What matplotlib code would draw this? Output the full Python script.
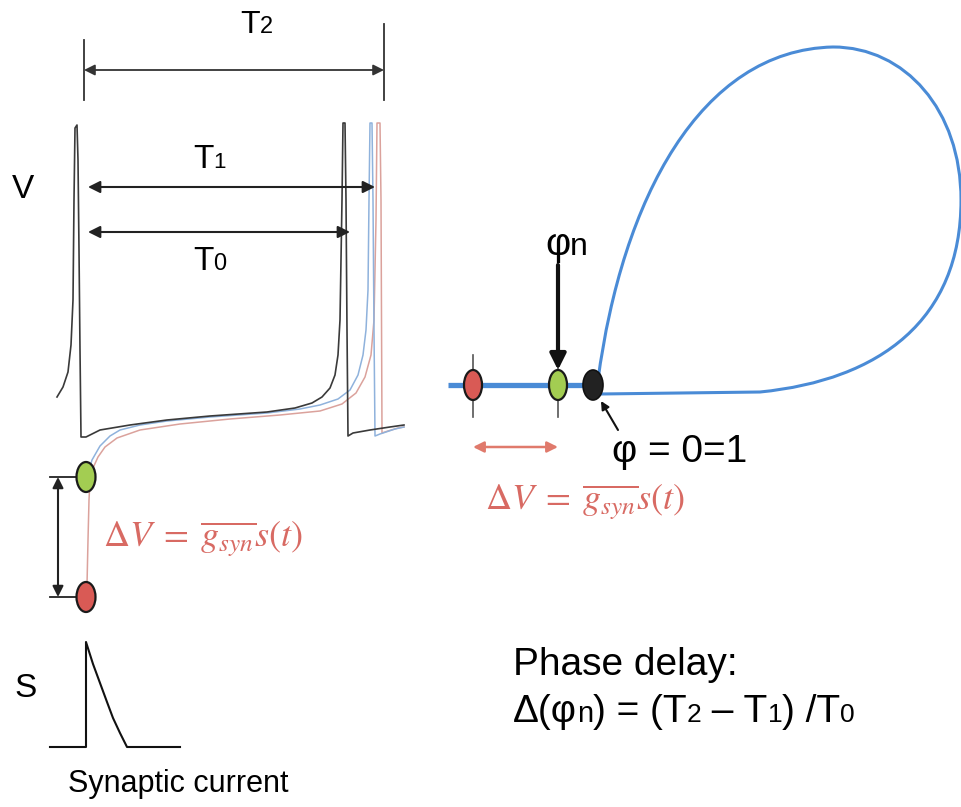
import matplotlib.pyplot as plt
from matplotlib.patches import Ellipse, PathPatch
from matplotlib.path import Path

plt.rcParams['font.family'] = ['Liberation Sans', 'DejaVu Sans']
plt.rcParams['mathtext.fontset'] = 'stix'

W, H = 962, 807

# voltage traces, drawn in pixel space (y grows downward)
black_x = [57, 63, 68, 71, 73, 74, 75, 77, 78, 79, 80, 81, 86, 100, 130, 167, 210, 267, 295, 312,
           322, 330, 335, 338, 340, 342, 343, 345, 346, 347, 348, 353, 370, 390, 404]
black_y = [397, 387, 372, 345, 300, 200, 128, 125, 160, 250, 350, 437, 437, 430, 425, 420, 416, 412, 408, 403,
           397, 388, 375, 355, 320, 200, 123, 123, 200, 330, 436, 433, 430, 427, 425]

blue_x = [89, 92, 100, 110, 120, 140, 167, 210, 267, 300, 320, 338, 350, 358, 363, 366, 368, 369, 370,
          372, 373, 374, 375, 380, 395, 404]
blue_y = [470, 460, 446, 436, 430, 425, 421, 417, 413, 409, 405, 399, 390, 375, 355, 330, 290, 200, 123,
          123, 200, 330, 436, 434, 429, 427]

red_x = [87, 88, 89, 90, 93, 98, 105, 117, 140, 180, 230, 280, 320, 342, 356, 365, 371, 374, 376, 377,
         380, 381, 382, 388, 398, 404]
red_y = [585, 540, 500, 480, 468, 457, 447, 438, 430, 424, 419, 415, 411, 404, 393, 377, 355, 320, 220, 123,
         123, 200, 433, 431, 428, 427]

# synaptic current pulse
syn_x = [50, 86, 86, 93, 100, 107, 113, 120, 127, 180]
syn_y = [747, 747, 642, 664, 683, 702, 718, 733, 747, 747]

# phase-plane loop (cubic bezier control points)
loop_x = [598, 622, 700, 833, 905, 961, 961, 961, 880, 760, 600]
loop_y = [380, 200, 50, 47, 47, 110, 200, 320, 380, 392, 394]

# interval markers
spike0 = 84
t0_end, t1_end, t2_end = 350, 375, 384

dV_top, dV_bottom = 477, 597
phase_y = 385
red_dot_x, green_dot_x, black_dot_x = 473, 558, 593

fig = plt.figure(figsize=(W / 100, H / 100), dpi=100)
ax = fig.add_axes([0, 0, 1, 1])
ax.set_xlim(0, W)
ax.set_ylim(H, 0)
ax.axis('off')
renderer = fig.canvas.get_renderer()


def run(x, y, parts, color='black'):
    # lay out text pieces of different sizes along one baseline
    for s, fs in parts:
        t = ax.text(x, y, s, fontsize=fs, color=color, va='baseline', ha='left')
        x += t.get_window_extent(renderer).width


def darrow(x0, y0, x1, y1, color='#222222', lw=1.5, ms=18, style='<|-|>'):
    ax.annotate('', xy=(x1, y1), xytext=(x0, y0),
                arrowprops=dict(arrowstyle=style, color=color, lw=lw, mutation_scale=ms,
                                shrinkA=0, shrinkB=0))


dv_label = r'$\Delta V\;=\;\overline{g_{syn}}s(t)$'

# traces
ax.plot(red_x, red_y, color='#dba29c', lw=1.1)
ax.plot(blue_x, blue_y, color='#8fb2dc', lw=1.1)
ax.plot(black_x, black_y, color='#3a3a3a', lw=1.2)

# T2 / T1 / T0 intervals
ax.plot([spike0, spike0], [40, 100], color='#333333', lw=1.3)
ax.plot([t2_end, t2_end], [24, 100], color='#333333', lw=1.3)
darrow(spike0, 70, t2_end, 70, color='#333333', lw=1.3, ms=16)
darrow(88, 187, t1_end, 187)
darrow(88, 232, t0_end, 232)
run(240, 33, [('T', 23), ('2', 17)])
run(193, 168, [('T', 24), ('1', 16)])
run(193, 270, [('T', 24), ('0', 17)])
ax.text(12, 198, 'V', fontsize=24, va='baseline')

# voltage jump between the two dots
ax.plot([50, 80], [dV_top, dV_top], color='#222222', lw=1.3)
ax.plot([50, 80], [dV_bottom, dV_bottom], color='#222222', lw=1.3)
darrow(58, dV_top, 58, dV_bottom, ms=16)
ax.add_patch(Ellipse((86, dV_top), 19, 30, facecolor='#a3cd52', edgecolor='#1a1a1a', lw=1.6, zorder=5))
ax.add_patch(Ellipse((86, dV_bottom), 19, 30, facecolor='#d95a55', edgecolor='#1a1a1a', lw=1.6, zorder=5))
ax.text(103, 547, dv_label, fontsize=26, color='#d86a63', va='baseline')

# synaptic current
ax.plot(syn_x, syn_y, color='#111111', lw=1.5)
ax.text(14, 697, 'S', fontsize=24, va='baseline')
ax.text(178, 792, 'Synaptic current', fontsize=22, va='baseline', ha='center')

# phase plane
codes = [Path.MOVETO] + [Path.CURVE4] * 9 + [Path.LINETO]
loop = Path(list(zip(loop_x, loop_y)), codes)
ax.add_patch(PathPatch(loop, facecolor='none', edgecolor='#4a8bd6', lw=2.2))
ax.plot([448, black_dot_x], [phase_y, phase_y], color='#4a8bd6', lw=3.8, solid_capstyle='butt')

for xd in (red_dot_x, green_dot_x):
    ax.plot([xd, xd], [355, 417], color='#555555', lw=1.2)
ax.add_patch(Ellipse((red_dot_x, phase_y), 18, 30, facecolor='#d95a55', edgecolor='#1a1a1a', lw=1.6, zorder=5))
ax.add_patch(Ellipse((green_dot_x, phase_y), 18, 30, facecolor='#a3cd52', edgecolor='#1a1a1a', lw=1.6, zorder=5))
ax.add_patch(Ellipse((black_dot_x, phase_y), 20, 30, facecolor='#222222', edgecolor='#111111', lw=1.2, zorder=5))

darrow(green_dot_x, 265, green_dot_x, 370, color='#111111', lw=3, ms=24, style='-|>')
run(545, 255, [('φ', 28), ('n', 23)])

darrow(618, 430, 601, 401, color='#111111', lw=1.5, ms=12, style='-|>')
ax.text(612, 462, 'φ = 0=1', fontsize=28, va='baseline')

darrow(red_dot_x, 447, green_dot_x, 447, color='#e07a6c', lw=1.8, ms=16)
ax.text(485, 510, dv_label, fontsize=26, color='#d86a63', va='baseline')

# phase delay definition
ax.text(513, 675, 'Phase delay:', fontsize=28, va='baseline')
run(513, 722, [('Δ(φ', 28), ('n', 21), (') = (T', 28), ('2', 19), (' – T', 28), ('1', 19),
               (') /T', 28), ('0', 19)])

fig.savefig('out.png', dpi=100, facecolor='white')
